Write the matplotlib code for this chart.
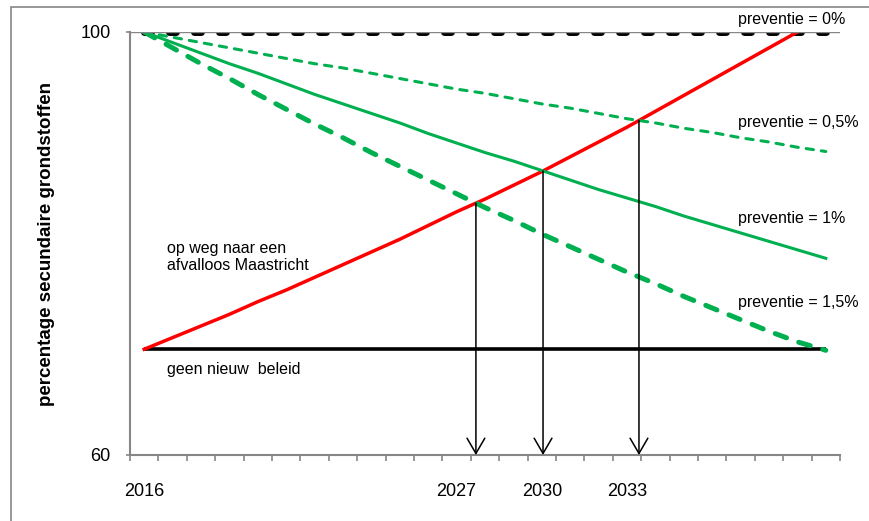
import numpy as np
import matplotlib
matplotlib.use('Agg')
import matplotlib.pyplot as plt
from matplotlib.patches import Rectangle

plt.rcParams['font.family'] = ['Liberation Sans', 'DejaVu Sans']

years = list(range(2016, 2041))
labeled_years = [2016, 2027, 2030, 2033]

# percentage secundaire grondstoffen per scenario
prev_0 = [100.0] * 25
prev_05 = [100.0, 99.5, 99.0, 98.5, 98.0, 97.5, 97.0, 96.6, 96.1, 95.6, 95.1, 94.6, 94.2,
           93.7, 93.2, 92.8, 92.3, 91.8, 91.4, 90.9, 90.5, 90.0, 89.6, 89.1, 88.7]
prev_1 = [100.0, 99.0, 98.0, 97.0, 96.1, 95.1, 94.1, 93.2, 92.3, 91.4, 90.4, 89.5, 88.6,
          87.8, 86.9, 86.0, 85.1, 84.3, 83.5, 82.6, 81.8, 81.0, 80.2, 79.4, 78.6]
prev_15 = [100.0, 98.5, 97.0, 95.6, 94.1, 92.7, 91.3, 90.0, 88.6, 87.3, 86.0, 84.7, 83.4,
           82.2, 80.9, 79.7, 78.5, 77.3, 76.2, 75.0, 73.9, 72.8, 71.7, 70.7, 69.9]
afvalloos = [70.0, 71.1, 72.2, 73.3, 74.5, 75.6, 76.8, 78.0, 79.2, 80.4, 81.7, 83.0,
             84.2, 85.5, 86.8, 88.2, 89.6, 91.0, 92.5, 94.0, 95.5, 97.0, 98.5, 100.0]
geen_beleid = [70.0] * 25

green = '#00B050'
grey = '#868686'

fig = plt.figure(figsize=(8.69, 5.21), dpi=100)
ax = fig.add_axes([130/869, 1-455/521, 710/869, 423/521])

x = np.arange(len(years))
xr = np.arange(len(afvalloos))

ax.axhline(100, color=grey, lw=1, zorder=6)
ax.plot(x, geen_beleid, color='black', lw=2.6, solid_capstyle='butt', zorder=2)
ax.plot(x, prev_0, color='black', lw=5, linestyle=(0, (1.0, 2.6)),
        dash_capstyle='round', zorder=3)
ax.plot(xr, afvalloos, color='#FF0000', lw=2.5, zorder=3)
ax.plot(x, prev_05, color=green, lw=2.2, linestyle=(0, (2.4, 2.6)),
        dash_capstyle='round', zorder=4)
ax.plot(x, prev_1, color=green, lw=2.2, zorder=4)
ax.plot(x, prev_15, color=green, lw=3.6, linestyle=(0, (2.4, 2.6)),
        dash_capstyle='round', zorder=4)

# snijpunten van de rode lijn met de preventie-lijnen
for g in [prev_15, prev_1, prev_05]:
    d = np.array(afvalloos) - np.array(g[:len(afvalloos)])
    i = np.where(np.diff(np.sign(d)) > 0)[0][0]
    t = i + d[i] / (d[i] - d[i+1])
    yc = np.interp(t, xr, afvalloos)
    ax.annotate('', xy=(t, 60), xytext=(t, yc),
                arrowprops=dict(arrowstyle='->,head_length=0.55,head_width=0.32',
                                mutation_scale=20, color='black', lw=1.1,
                                shrinkA=0, shrinkB=0), zorder=5)

ax.set_xlim(-0.5, 24.5)
ax.set_ylim(60, 100)
ax.set_yticks([60, 100])
ax.set_xticks([years.index(y) for y in labeled_years])
ax.set_xticklabels([str(y) for y in labeled_years])
ax.set_xticks(np.arange(-0.5, 25, 1), minor=True)
ax.tick_params(axis='x', which='major', length=0, pad=20, labelsize=13)
ax.tick_params(axis='x', which='minor', length=4, width=1.2, color=grey)
ax.tick_params(axis='y', length=3, width=1.2, color=grey, pad=11, labelsize=13)

for s in ['top', 'right']:
    ax.spines[s].set_visible(False)
for s in ['left', 'bottom']:
    ax.spines[s].set_color(grey)
    ax.spines[s].set_linewidth(1.5)

ax.set_ylabel('percentage secundaire grondstoffen', fontsize=13.5, fontweight='bold')
ax.yaxis.set_label_coords(-0.105, 0.5)

fs = 11.5
ax.text(20.9, 101.2, 'preventie = 0%', fontsize=fs, va='center', clip_on=False)
ax.text(20.9, 91.4, 'preventie = 0,5%', fontsize=fs, va='center', clip_on=False)
ax.text(20.9, 82.4, 'preventie = 1%', fontsize=fs, va='center', clip_on=False)
ax.text(20.9, 74.4, 'preventie = 1,5%', fontsize=fs, va='center', clip_on=False)
ax.text(0.8, 78.7, 'op weg naar een\nafvalloos Maastricht', fontsize=fs, va='center',
        linespacing=1.15)
ax.text(0.8, 68.1, 'geen nieuw  beleid', fontsize=fs, va='center')

fig.patches.append(Rectangle((11/869, -0.1), 1.1, 1.1 - 7/521, transform=fig.transFigure,
                             fill=False, edgecolor=grey, lw=1.2))

fig.savefig('out.png', dpi=100)
